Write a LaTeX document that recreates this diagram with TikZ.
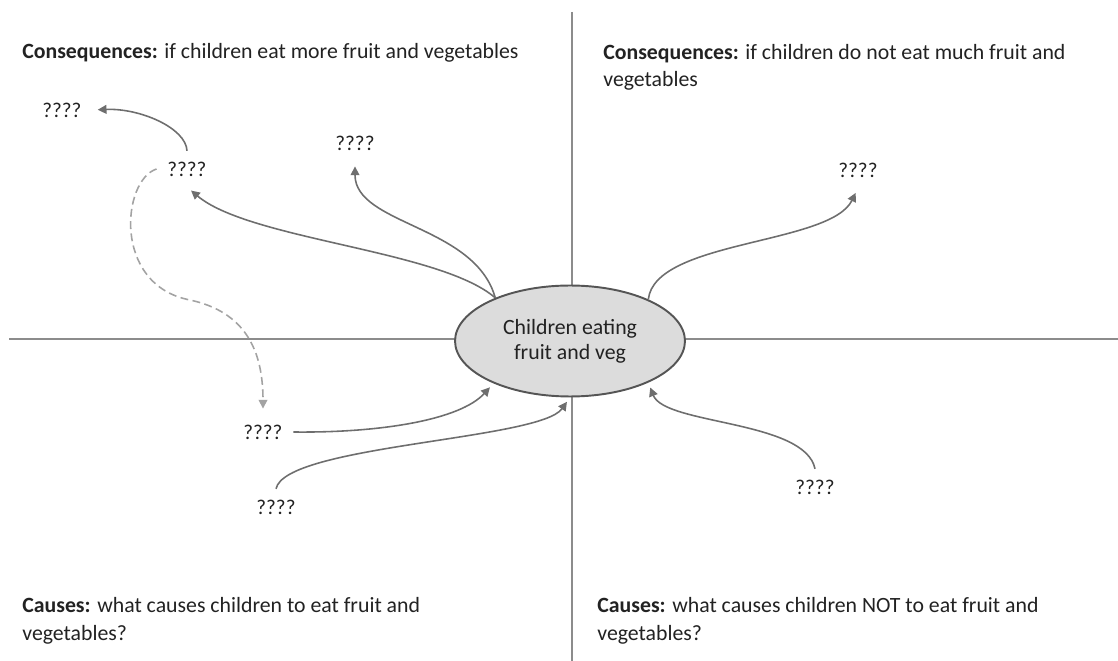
\documentclass[tikz,border=0pt]{standalone}
\usepackage{fontspec}
\setmainfont{Carlito}
\usepackage{tikz}
\usetikzlibrary{shapes.geometric, arrows.meta}

\definecolor{ink}{HTML}{222222}
\definecolor{axisgray}{HTML}{8C8C8C}
\definecolor{linkgray}{HTML}{6E6E6E}
\definecolor{dashgray}{HTML}{A3A3A3}
\definecolor{hubfill}{HTML}{DCDCDC}
\definecolor{hubline}{HTML}{555555}

\tikzset{
  heading/.style={anchor=base west, inner sep=0pt, align=left, text=ink,
    font=\fontsize{12.4}{15.8}\selectfont},
  qmark/.style={inner sep=6pt, text=ink, font=\fontsize{12}{14}\selectfont},
  hub/.style={ellipse, draw=hubline, fill=hubfill, line width=1.1pt,
    minimum width=4.6cm, minimum height=2.22cm, inner sep=0pt, align=center,
    text=ink, font=\fontsize{12.4}{14.2}\selectfont},
  axis/.style={draw=axisgray, line width=0.8pt},
  link/.style={draw=linkgray, line width=0.9pt, shorten >=3pt,
    -{Triangle[length=5pt,width=5pt]}},
  hint/.style={link, draw=dashgray, dash pattern=on 4.5pt off 2.5pt}
}

\begin{document}
\begin{tikzpicture}[x=0.02cm, y=-0.02cm]
\useasboundingbox (0,0) rectangle (1118,661);

% the four quarters
\draw[axis] (9,339) -- (1118,339);
\draw[axis] (572,12) -- (572,661);

\node[hub] (centre) at (570,341) {Children eating\\fruit and veg};

% headings (base = last line)
\node[heading] (conA) at (22,59) {\textbf{Consequences:} if children eat more fruit and vegetables};
\node[heading] (conB) at (603,87) {\textbf{Consequences:} if children do not eat much fruit and\\vegetables};
\node[heading] (cauA) at (22,640) {\textbf{Causes:} what causes children to eat fruit and\\vegetables?};
\node[heading] (cauB) at (597,640) {\textbf{Causes:} what causes children NOT to eat fruit and\\vegetables?};

% question marks
\node[qmark] (qa) at (62,110) {????};
\node[qmark] (qb) at (187,169) {????};
\node[qmark] (qc) at (355,143) {????};
\node[qmark] (qd) at (858,170) {????};
\node[qmark] (qe) at (263,432) {????};
\node[qmark] (qf) at (276,507) {????};
\node[qmark] (qg) at (815,487) {????};

% consequences
\draw[link] (centre.150) .. controls (440,250) and (250,240) .. (qb.south);
\draw[link] (centre.150) .. controls (475,225) and (355,225) .. (qc.south);
\draw[link] (qb.north) .. controls (186,128) and (140,108) .. (qa.east);
\draw[link] (centre.28) .. controls (655,240) and (830,245) .. (qd.south);
\draw[hint] (qb.west) .. controls (122,180) and (112,285) .. (190,300)
  .. controls (245,312) and (263,350) .. (qe.north);

% causes
\draw[link] (qe.east) .. controls (380,433) and (460,420) .. (centre.209);
\draw[link] (qf.north) .. controls (285,445) and (540,440) .. (centre.south);
\draw[link] (qg.north) .. controls (805,420) and (665,425) .. (centre.332);
\end{tikzpicture}
\end{document}
